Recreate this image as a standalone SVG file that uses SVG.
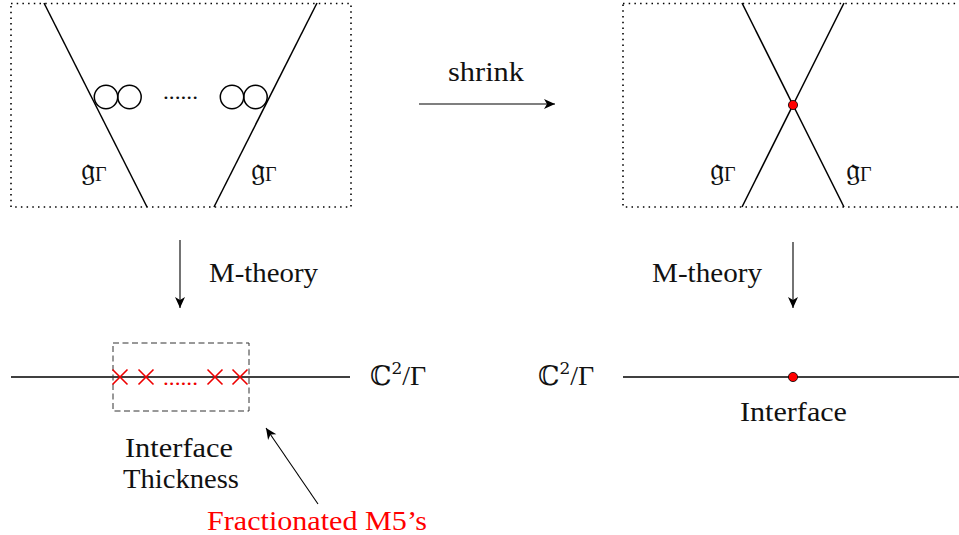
<svg xmlns="http://www.w3.org/2000/svg" width="959" height="535" viewBox="0 0 959 535">
<defs>
<style>
text{fill:#111}
.ln{stroke:#000;stroke-width:1.5;fill:none}
.ar{stroke:#000;stroke-width:1.1;fill:none}
.dot{stroke:#000;stroke-width:1.6;fill:none;stroke-dasharray:1.5 4.2}
.x{stroke:#e00;stroke-width:1.6}
.rd{fill:#f00;stroke:#000;stroke-width:0.8}
.c{fill:none;stroke:#000;stroke-width:1.5}
</style>
<marker id="ah" viewBox="-12 -6 14 12" refX="0" refY="0" markerWidth="14" markerHeight="12" markerUnits="userSpaceOnUse" orient="auto">
<path d="M0,0 L-11,-5 L-8,0 L-11,5 Z" fill="#000"/>
</marker>
</defs>

<g id="left-box">
<rect class="dot" x="11" y="3.5" width="340" height="203.5"/>
<line class="ln" x1="44" y1="3" x2="147" y2="207"/>
<line class="ln" x1="317" y1="3" x2="214" y2="207"/>
<circle class="c" cx="106" cy="97" r="11.7"/>
<circle class="c" cx="129.5" cy="97" r="11.7"/>
<circle class="c" cx="232" cy="97" r="11.7"/>
<circle class="c" cx="255.5" cy="97" r="11.7"/>
<text font-family="'Liberation Serif', serif" font-size="20" x="163" y="99" textLength="35" lengthAdjust="spacingAndGlyphs">......</text>
<text font-family="'DejaVu Serif', serif" font-size="32" x="81" y="180">𝔤<tspan font-family="'Liberation Serif', serif" font-size="20" dy="1">Γ</tspan></text>
<text font-family="'DejaVu Serif', serif" font-size="32" x="251" y="180">𝔤<tspan font-family="'Liberation Serif', serif" font-size="20" dy="1">Γ</tspan></text>
</g>

<g id="right-box">
<rect class="dot" x="623" y="3.5" width="345" height="203.5"/>
<line class="ln" x1="742" y1="3" x2="844" y2="207"/>
<line class="ln" x1="844" y1="3" x2="742" y2="207"/>
<circle class="rd" cx="793" cy="105" r="4.6"/>
<text font-family="'DejaVu Serif', serif" font-size="32" x="710" y="180">𝔤<tspan font-family="'Liberation Serif', serif" font-size="20" dy="1">Γ</tspan></text>
<text font-family="'DejaVu Serif', serif" font-size="32" x="846" y="180">𝔤<tspan font-family="'Liberation Serif', serif" font-size="20" dy="1">Γ</tspan></text>
</g>

<g id="left-bottom">
<line class="ln" x1="11" y1="377" x2="350" y2="377"/>
<rect x="113" y="343" width="136" height="68" fill="none" stroke="#333" stroke-width="1" stroke-dasharray="6 3.5"/>
<g class="x">
<path d="M112.5,369.5 L127.5,384.5 M127.5,369.5 L112.5,384.5"/>
<path d="M138.5,369.5 L153.5,384.5 M153.5,369.5 L138.5,384.5"/>
<path d="M207.5,369.5 L222.5,384.5 M222.5,369.5 L207.5,384.5"/>
<path d="M232.5,369.5 L247.5,384.5 M247.5,369.5 L232.5,384.5"/>
</g>
<text font-family="'Liberation Serif', serif" font-size="20" x="163" y="385" textLength="35" lengthAdjust="spacingAndGlyphs" style="fill:#e00">......</text>
<text font-family="'DejaVu Serif', serif" font-size="27" x="370" y="385">ℂ<tspan font-size="17" dy="-11">2</tspan><tspan font-family="'Liberation Serif', serif" font-size="28" dy="11">/Γ</tspan></text>
<text font-family="'Liberation Serif', serif" font-size="27" x="125" y="457" textLength="108" lengthAdjust="spacingAndGlyphs">Interface</text>
<text font-family="'Liberation Serif', serif" font-size="27" x="123" y="488" textLength="116" lengthAdjust="spacingAndGlyphs">Thickness</text>
<text font-family="'Liberation Serif', serif" font-size="27" x="207" y="530" textLength="220" lengthAdjust="spacingAndGlyphs" style="fill:#f00">Fractionated M5’s</text>
</g>

<g id="right-bottom">
<line class="ln" x1="623" y1="377" x2="959" y2="377"/>
<circle class="rd" cx="793" cy="377" r="4.6"/>
<text font-family="'DejaVu Serif', serif" font-size="27" x="538" y="385">ℂ<tspan font-size="17" dy="-11">2</tspan><tspan font-family="'Liberation Serif', serif" font-size="28" dy="11">/Γ</tspan></text>
<text font-family="'Liberation Serif', serif" font-size="27" x="740" y="421" textLength="107" lengthAdjust="spacingAndGlyphs">Interface</text>
</g>

<g id="labels">
<text font-family="'Liberation Serif', serif" font-size="27" x="448" y="81" textLength="76" lengthAdjust="spacingAndGlyphs">shrink</text>
<text font-family="'Liberation Serif', serif" font-size="27" x="209" y="282" textLength="109" lengthAdjust="spacingAndGlyphs">M-theory</text>
<text font-family="'Liberation Serif', serif" font-size="27" x="652" y="282" textLength="110" lengthAdjust="spacingAndGlyphs">M-theory</text>
</g>

<g id="connectors">
<line class="ar" x1="419" y1="104" x2="555" y2="104" marker-end="url(#ah)"/>
<line class="ar" x1="180" y1="240" x2="180" y2="308" marker-end="url(#ah)"/>
<line class="ar" x1="793" y1="242" x2="793" y2="308" marker-end="url(#ah)"/>
<line class="ar" x1="318" y1="504" x2="266" y2="428" marker-end="url(#ah)"/>
</g>
</svg>
